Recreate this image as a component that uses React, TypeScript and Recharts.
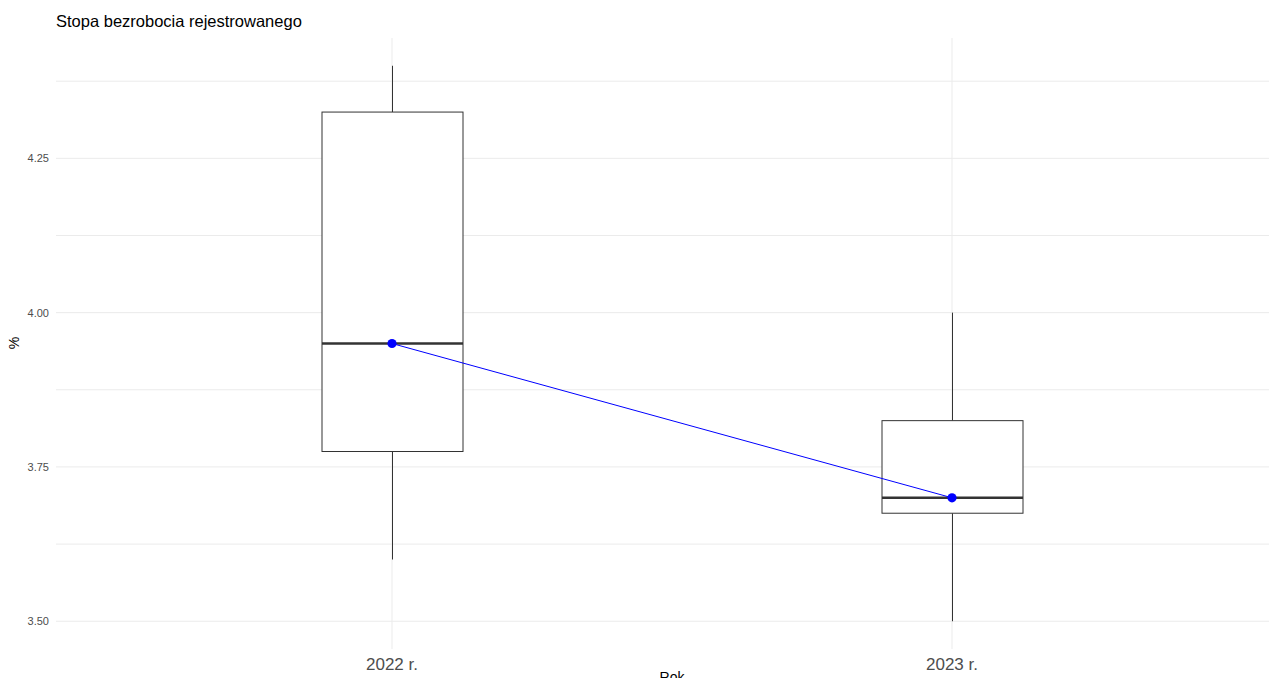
import React from 'react';
import { ComposedChart, Bar, Line, XAxis, YAxis, CartesianGrid } from 'recharts';

// categories and box stats
const years = ['2022 r.', '2023 r.'];
const mins = [3.6, 3.5];
const q1s = [3.775, 3.675];
const medians = [3.95, 3.7];
const q3s = [4.325, 3.825];
const maxs = [4.4, 4.0];

const yTicks = [3.5, 3.625, 3.75, 3.875, 4.0, 4.125, 4.25, 4.375];
const majorTicks = [3.5, 3.75, 4.0, 4.25];

const data = years.map((year, i) => ({
  year,
  range: [mins[i], maxs[i]],
  min: mins[i],
  q1: q1s[i],
  median: medians[i],
  q3: q3s[i],
  max: maxs[i],
}));

const FONT = '"Liberation Sans", Arial, sans-serif';

// draws whiskers, box and median inside the bar that spans min..max
const BoxShape = (props: any) => {
  const { x, y, width, height, payload } = props;
  if (!payload || height == null) return null;
  const { min, q1, median, q3, max } = payload;
  const py = (v: number) => y + ((max - v) / (max - min)) * height;
  const cx = x + width / 2;
  const stroke = '#333333';
  return (
    <g>
      <line x1={cx} x2={cx} y1={py(max)} y2={py(q3)} stroke={stroke} strokeWidth={1} />
      <line x1={cx} x2={cx} y1={py(q1)} y2={py(min)} stroke={stroke} strokeWidth={1} />
      <rect x={x} y={py(q3)} width={width} height={py(q1) - py(q3)} fill="#ffffff" stroke={stroke} strokeWidth={1} />
      <line x1={x} x2={x + width} y1={py(median)} y2={py(median)} stroke={stroke} strokeWidth={2.5} />
    </g>
  );
};

export default function App() {
  return (
    <div style={{ position: 'relative', width: 1277, height: 686, margin: -8, fontFamily: FONT, background: '#fff' }}>
      <ComposedChart
        width={1277}
        height={686}
        data={data}
        margin={{ top: 38, right: 0, bottom: 0, left: 0 }}
        style={{ fontFamily: FONT }}
      >
        <CartesianGrid stroke="#ebebeb" strokeWidth={1} syncWithTicks />
        <XAxis
          dataKey="year"
          type="category"
          height={37}
          padding={{ left: 56, right: 45 }}
          axisLine={false}
          tickLine={false}
          tickSize={0}
          tickMargin={9}
          tick={{ fontSize: 17, fill: '#4d4d4d' }}
        />
        <YAxis
          type="number"
          width={56}
          domain={[3.455, 4.445]}
          allowDataOverflow
          ticks={yTicks}
          interval={0}
          axisLine={false}
          tickLine={false}
          tickSize={0}
          tickMargin={7}
          tick={{ fontSize: 11, fill: '#4d4d4d' }}
          tickFormatter={(v: number) => (majorTicks.includes(v) ? v.toFixed(2) : '')}
        />
        <Bar dataKey="range" barSize={141} shape={<BoxShape />} isAnimationActive={false} />
        <Line
          dataKey="median"
          stroke="#0000ff"
          strokeWidth={1}
          dot={{ r: 4.6, fill: '#0000ff', stroke: '#0000ff', strokeWidth: 0 }}
          activeDot={false}
          isAnimationActive={false}
        />
      </ComposedChart>
      <div style={{ position: 'absolute', left: 56, top: 12, fontSize: 16.5, lineHeight: 'normal', color: '#000' }}>
        Stopa bezrobocia rejestrowanego
      </div>
      <div
        style={{
          position: 'absolute',
          left: 14,
          top: 343,
          fontSize: 14,
          lineHeight: 'normal',
          color: '#000',
          transform: 'translate(-50%, -50%) rotate(-90deg)',
        }}
      >
        %
      </div>
      <div
        style={{
          position: 'absolute',
          left: 672,
          top: 669,
          fontSize: 14,
          lineHeight: 'normal',
          color: '#000',
          transform: 'translateX(-50%)',
        }}
      >
        Rok
      </div>
    </div>
  );
}
